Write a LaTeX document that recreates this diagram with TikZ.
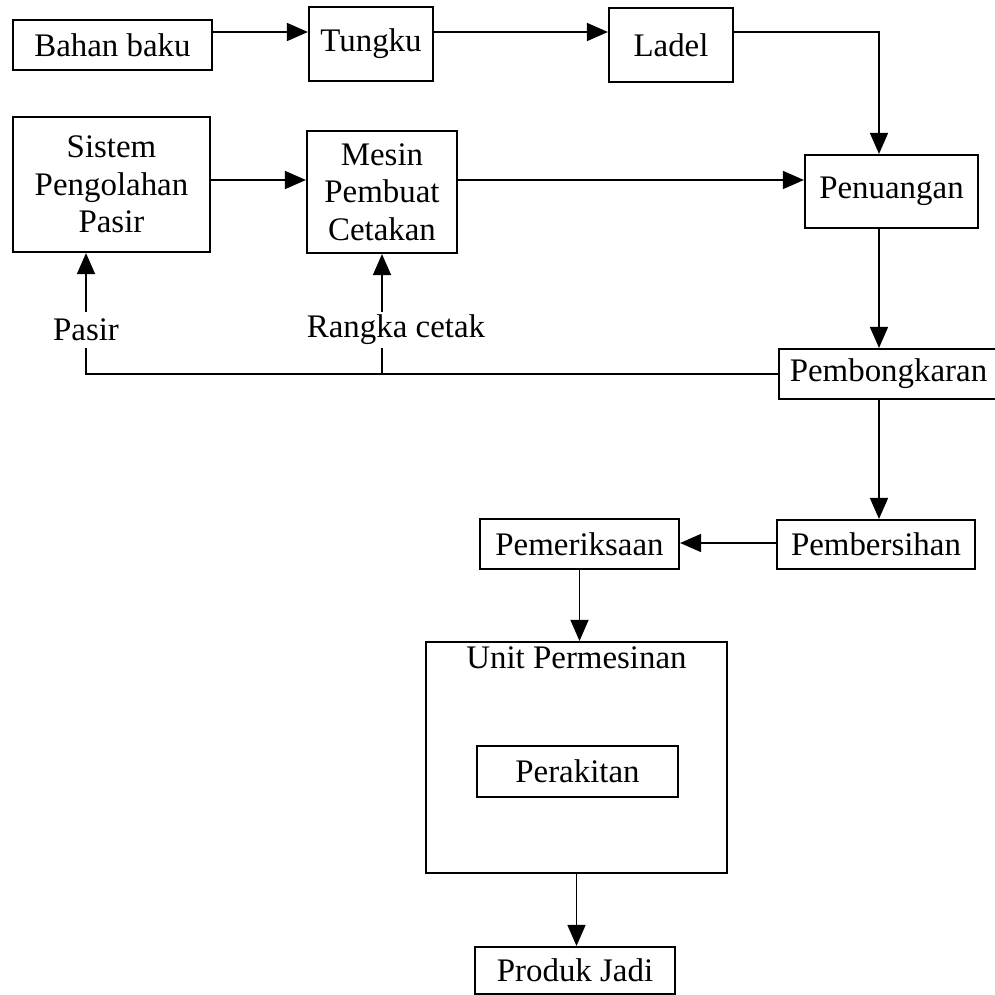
\documentclass[tikz,border=0pt]{standalone}
\usepackage{fontspec}
\setmainfont{Liberation Serif}
\usetikzlibrary{arrows.meta}

\begin{document}
\begin{tikzpicture}
  [
    x                 = 0.025cm,
    y                 = -0.025cm,
    line width        = 1.1pt,
    every node/.style = {font=\fontsize{23.4pt}{26.5pt}\selectfont, align=center},
    box/.style        = {draw, rectangle, inner sep=0pt, line width=1.5pt},
    tag/.style        = {inner sep=0pt, minimum height=0.875cm},
    flow/.style       = {draw, -{Triangle[length=0.525cm, width=0.45cm]}}
  ]
  \useasboundingbox (0,0) rectangle (995,995);

  % casting line, top rows
  \node[box, minimum width=4.975cm, minimum height=1.25cm] (bahan) at (112.5,45) {Bahan baku};
  \node[box, minimum width=3.1cm,   minimum height=1.85cm] (tungku) at (371,44) {Tungku};
  \node[box, minimum width=3.1cm,   minimum height=1.85cm] (ladel) at (671,45) {Ladel};
  \node[box, minimum width=4.925cm, minimum height=3.375cm] (sistem) at (111.5,184.5)
    {Sistem\\ Pengolahan\\ Pasir};
  \node[box, minimum width=3.75cm,  minimum height=3.05cm] (mesin) at (382,192)
    {Mesin\\ Pembuat\\ Cetakan};
  \node[box, minimum width=4.325cm, minimum height=1.825cm] (tuang) at (891.5,191.5) {Penuangan};

  % shake-out and finishing
  \node[box, minimum width=5.475cm, minimum height=1.25cm] (bongkar) at (888.5,374) {Pembongkaran};
  \node[box, minimum width=4.95cm,  minimum height=1.225cm] (bersih) at (876,544.5) {Pembersihan};
  \node[box, minimum width=4.975cm, minimum height=1.25cm] (periksa) at (579.5,544) {Pemeriksaan};
  \node[box, minimum width=7.525cm, minimum height=5.775cm,
        label={[anchor=north]north:Unit Permesinan}] (unit) at (576.5,757.5) {};
  \node[box, minimum width=5.025cm, minimum height=1.275cm] (rakit) at (577.5,771.5) {Perakitan};
  \node[box, minimum width=5cm,     minimum height=1.175cm] (produk) at (575,970.5) {Produk Jadi};

  % return labels
  \node[tag] (pasir) at (86,330) {Pasir};
  \node[tag] (rangka) at (396,330) {Rangka cetak};

  % helper rows and column
  \coordinate (atas) at (0,32);
  \coordinate (tengah) at (0,180);
  \coordinate (balik) at (0,374);
  \coordinate (kanan) at (879,0);

  \draw[flow] (bahan.east |- atas) -- (tungku.west |- atas);
  \draw[flow] (tungku.east |- atas) -- (ladel.west |- atas);
  \draw[flow] (ladel.east |- atas) -| (kanan |- tuang.north);
  \draw[flow] (sistem.east |- tengah) -- (mesin.west |- tengah);
  \draw[flow] (mesin.east |- tengah) -- (tuang.west |- tengah);
  \draw[flow] (kanan |- tuang.south) -- (kanan |- bongkar.north);
  \draw[flow] (kanan |- bongkar.south) -- (kanan |- bersih.north);
  \draw[flow] (bersih.west |- 0,543) -- (periksa.east |- 0,543);
  \draw[flow] (periksa.south) -- (periksa.south |- unit.north);
  \draw[flow] (unit.south) -- (unit.south |- produk.north);

  % sand and flasks go back
  \draw (bongkar.west |- balik) -| (pasir.south);
  \draw (mesin.south |- balik) -- (mesin.south |- rangka.south);
  \draw[flow] (pasir.north) -- (pasir.north |- sistem.south);
  \draw[flow] (mesin.south |- rangka.north) -- (mesin.south);
\end{tikzpicture}
\end{document}
